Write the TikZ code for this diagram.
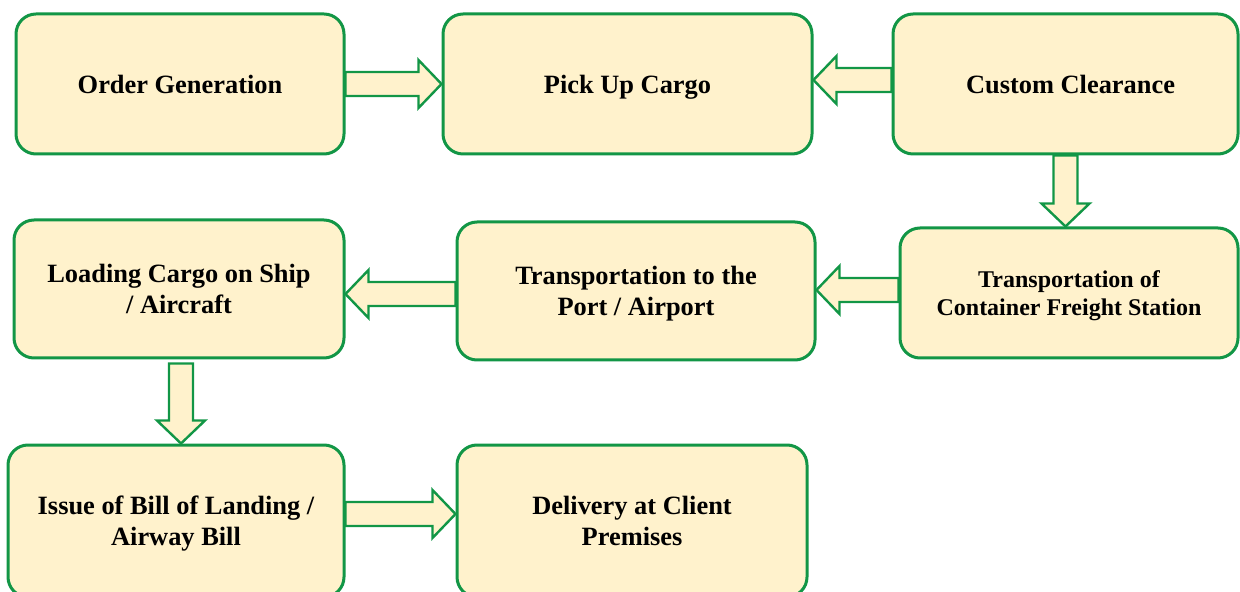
\documentclass[tikz,border=0pt]{standalone}
\usepackage{fontspec}
\setmainfont{Liberation Serif}
\usetikzlibrary{calc}
\definecolor{flowgreen}{RGB}{18,150,70}
\definecolor{flowfill}{RGB}{255,242,204}

\begin{document}
\begin{tikzpicture}[
        x=0.5pt, y=-0.5pt, % one unit is one pixel of the layout
        stage/.style={draw=flowgreen, fill=flowfill, line width=1.5pt, rounded corners=10pt, align=center, inner sep=0pt,
            text depth=0pt, font=\fontsize{13.2}{15.5}\selectfont\bfseries}, % Box styling
        fatarrow/.style={draw=flowgreen, fill=flowfill, line width=1.2pt,
            to path={let \p1=(\tikztostart), \p2=(\tikztotarget),
                \n1={veclen(\x2-\x1,\y2-\y1)}, \n2={(\x2-\x1)/\n1}, \n3={(\y2-\y1)/\n1} in
                ({\x1-(\n3)*6pt},{\y1+(\n2)*6pt})
                -- ({\x2-(\n2)*11.5pt-(\n3)*6pt},{\y2-(\n3)*11.5pt+(\n2)*6pt})
                -- ({\x2-(\n2)*11.5pt-(\n3)*12pt},{\y2-(\n3)*11.5pt+(\n2)*12pt})
                -- (\p2)
                -- ({\x2-(\n2)*11.5pt+(\n3)*12pt},{\y2-(\n3)*11.5pt-(\n2)*12pt})
                -- ({\x2-(\n2)*11.5pt+(\n3)*6pt},{\y2-(\n3)*11.5pt-(\n2)*6pt})
                -- ({\x1+(\n3)*6pt},{\y1-(\n2)*6pt}) -- cycle}} % Block arrow styling
        ]
        \useasboundingbox (0,0) rectangle (1240,592);
        \clip (0,0) rectangle (1240,592);

        % Define nodes
        \node (order) [stage, minimum width=164pt, minimum height=70pt] at (180,84) {Order Generation};
        \node (pickup) [stage, minimum width=184.5pt, minimum height=70pt] at (627.5,84) {Pick Up Cargo};
        \node (customs) [stage, minimum width=172.5pt, minimum height=70pt] at (1065.5,84) {\hspace*{5pt}Custom Clearance};
        \node (loading) [stage, minimum width=165pt, minimum height=69pt] at (179,289) {Loading Cargo on Ship \\ / Aircraft};
        \node (port) [stage, minimum width=179pt, minimum height=69pt] at (636,291) {Transportation to the \\ Port / Airport};
        \node (cfs) [stage, minimum width=169pt, minimum height=65pt, font=\fontsize{12}{14}\selectfont\bfseries] at (1069,293) {Transportation of \\ Container Freight Station};
        \node (bill) [stage, minimum width=168pt, minimum height=76pt] at (176,521) {Issue of Bill of Landing / \\ Airway Bill};
        \node (delivery) [stage, minimum width=175pt, minimum height=76pt] at (632,521) {Delivery at Client \\ Premises};

        % Arrow end points
        \coordinate (customsout) at ([yshift=2pt]customs.west);
        \coordinate (cfsout) at ([yshift=1.5pt]cfs.west);
        \coordinate (portout) at ([yshift=-1.5pt]port.west);
        \coordinate (loadingout) at ([xshift=1pt,yshift=-2pt]loading.south);
        \coordinate (billout) at ([yshift=3.5pt]bill.east);

        % Draw arrows
        \draw[fatarrow] (order.east) to (pickup.west);
        \draw[fatarrow] (customsout) to (customsout -| pickup.east);
        \draw[fatarrow] (customs.south) to (customs.south |- cfs.north);
        \draw[fatarrow] (cfsout) to (cfsout -| port.east);
        \draw[fatarrow] (portout) to (portout -| loading.east);
        \draw[fatarrow] (loadingout) to (loadingout |- bill.north);
        \draw[fatarrow] (billout) to (billout -| delivery.west);

    \end{tikzpicture}
\end{document}
